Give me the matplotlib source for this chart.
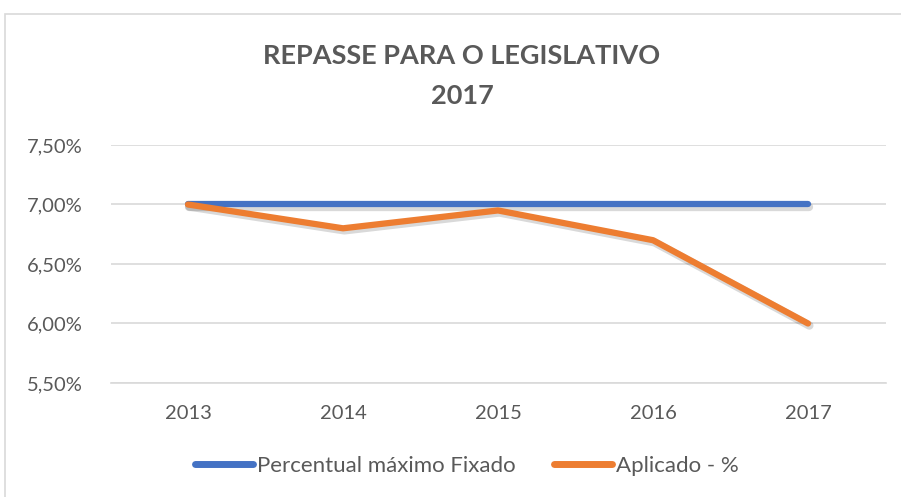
import matplotlib
matplotlib.use("Agg")
import matplotlib.pyplot as plt
import matplotlib.patheffects as pe
from matplotlib.patches import Rectangle
from matplotlib.ticker import FuncFormatter

anos = ["2013", "2014", "2015", "2016", "2017"]
maximo_fixado = [7.00, 7.00, 7.00, 7.00, 7.00]
aplicado = [7.00, 6.80, 6.95, 6.70, 6.00]
y_ticks = [5.50, 6.00, 6.50, 7.00, 7.50]

cinza = "#595959"
plt.rcParams["font.family"] = ["Lato", "DejaVu Sans"]

fig = plt.figure(figsize=(9.01, 4.97), dpi=100)
# moldura do grafico
fig.patches.append(Rectangle((5/901, -0.1), 1.0, 1 - 14/497 + 0.1, transform=fig.transFigure,
                             fill=False, edgecolor="#d9d9d9", lw=1.2))

ax = fig.add_axes([110.5/901, 1 - 383/497, (885.5 - 110.5)/901, (383 - 145)/497])
x = list(range(len(anos)))
sombra = [pe.SimpleLineShadow(offset=(1, -1.5), shadow_color="k", alpha=0.15, linewidth=6), pe.Normal()]
ax.plot(x, maximo_fixado, color="#4472C4", lw=4.5, solid_capstyle="round",
        solid_joinstyle="round", label="Percentual máximo Fixado", path_effects=sombra)
ax.plot(x, aplicado, color="#ED7D31", lw=4.5, solid_capstyle="round",
        solid_joinstyle="round", label="Aplicado - %", path_effects=sombra)

ax.set_xlim(-0.5, len(anos) - 0.5)
ax.set_ylim(5.5, 7.5)
ax.set_yticks(y_ticks)
ax.yaxis.set_major_formatter(FuncFormatter(lambda v, p: f"{v:.2f}%".replace(".", ",")))
ax.set_xticks(x)
ax.set_xticklabels(anos)
ax.grid(axis="y", color="#d9d9d9", lw=1.2)
ax.set_axisbelow(True)
for s in ["top", "right", "left"]:
    ax.spines[s].set_visible(False)
ax.spines["bottom"].set_color("#d9d9d9")
ax.spines["bottom"].set_linewidth(1.2)
ax.tick_params(axis="both", length=0, labelsize=14.5, labelcolor=cinza)
ax.tick_params(axis="x", pad=16)
ax.tick_params(axis="y", pad=20)

fig.text(462/901, 1 - 56/497, "REPASSE PARA O LEGISLATIVO", ha="center", va="center",
         fontsize=19.5, fontweight="bold", color=cinza)
fig.text(462/901, 1 - 96/497, "2017", ha="center", va="center",
         fontsize=19.5, fontweight="bold", color=cinza)

leg = fig.legend(loc="center", bbox_to_anchor=(467/901, 1 - 466/497), ncol=2, frameon=False,
                 fontsize=16, handlelength=2.6, handletextpad=0.18, columnspacing=1.75)
for t in leg.get_texts():
    t.set_color(cinza)
for h in leg.get_lines():
    h.set_path_effects([])
    h.set_linewidth(5)

fig.savefig("out.png", dpi=100)
